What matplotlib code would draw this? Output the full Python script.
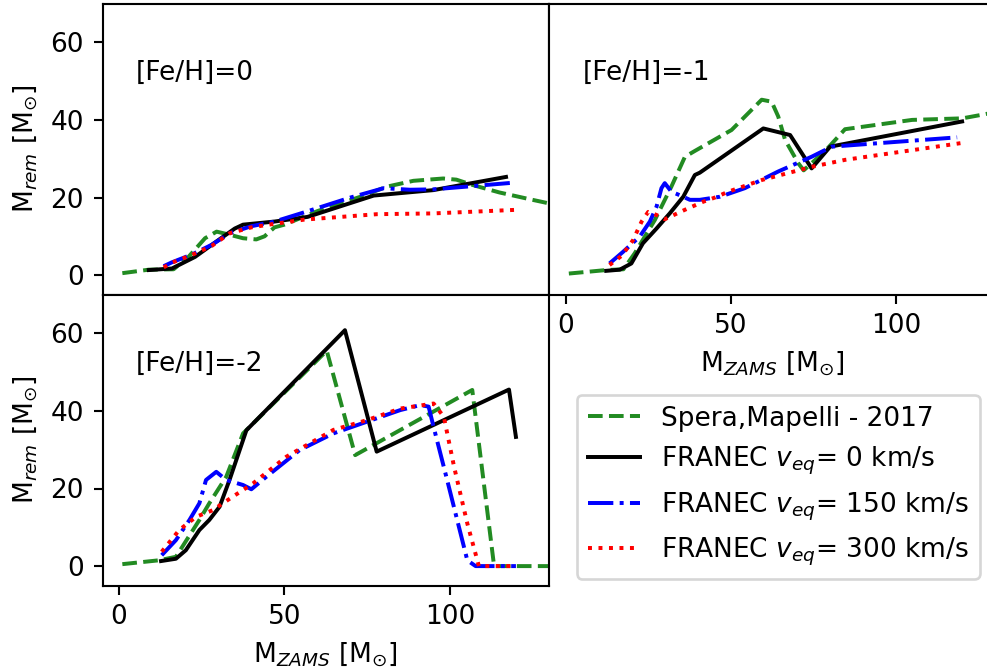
import matplotlib
matplotlib.use("Agg")
import matplotlib.pyplot as plt

# ---------------- data ----------------
# [Fe/H] = 0
spera0_m = [1, 9, 16.5, 21, 26, 29.5, 33, 37.5, 41.5, 44, 47, 50, 60, 73, 81, 89, 98, 102, 107, 115, 125, 131]
spera0_r = [0.5, 1.4, 1.5, 4.7, 9.5, 11.2, 10.5, 9.5, 9.2, 10.0, 12.3, 13.0, 16.5, 20.2, 22.8, 24.3, 24.9, 24.6, 23.2, 21.3, 19.4, 18.3]
black0_m = [9, 16, 23, 30, 35, 37.5, 47, 57, 77, 95, 117]
black0_r = [1.3, 1.7, 4.7, 9.0, 12.0, 13.0, 13.8, 15.0, 20.5, 21.9, 25.3]
blue0_m = [13.5, 16, 22, 28, 33.5, 40, 47, 55.7, 70, 80, 88, 95, 105, 119]
blue0_r = [2.3, 3.3, 5.3, 7.8, 10.8, 12.6, 13.8, 16.1, 20.0, 22.4, 22.0, 22.1, 22.8, 23.8]
red0_m = [13.5, 16, 22, 28, 33.5, 40, 46, 56, 78, 95, 119.5]
red0_r = [2.0, 3.2, 5.2, 7.5, 10.8, 12.3, 13.1, 14.3, 15.7, 15.9, 16.8]

# [Fe/H] = -1
spera1_m = [1, 12.3, 17.5, 20.9, 27, 32, 36.1, 39.1, 50.2, 59.3, 62.3, 64.3, 66.4, 70.4, 72, 78.5, 84.5, 104.8, 120, 127, 130]
spera1_r = [0.4, 1.3, 1.5, 5.6, 14.2, 22.8, 30.5, 32.0, 37.4, 45.2, 44.7, 40.9, 34.8, 28.8, 27.0, 32.0, 37.6, 40.0, 40.4, 41.5, 42.0]
black1_m = [12.3, 16.4, 19.9, 23.4, 27.5, 31.5, 35.6, 39.1, 40.6, 59.8, 67.9, 74.4, 80, 119.9]
black1_r = [1.1, 1.4, 3.0, 8.2, 12.0, 15.9, 20.2, 25.8, 26.4, 37.8, 36.1, 27.5, 33.1, 39.6]
blue1_m = [13.3, 17.4, 22.4, 25.5, 27.5, 29, 30, 32, 34.5, 37.6, 40.6, 46.7, 54.2, 64.3, 74.4, 80.5, 94.6, 118.4]
blue1_r = [3.0, 6.0, 9.9, 13.8, 17.6, 22.4, 23.7, 21.5, 20.6, 19.4, 19.4, 20.2, 22.4, 26.7, 30.5, 33.1, 34.0, 35.5]
red1_m = [13.3, 17, 20.4, 23, 25, 27.5, 30, 33, 36, 41.6, 45.2, 49.2, 59.3, 74.4, 84.5, 119.4]
red1_r = [2.6, 5.0, 9.0, 13.8, 16.3, 15.5, 14.4, 15.6, 16.8, 18.9, 20.0, 21.5, 24.5, 27.9, 29.7, 34.0]

# [Fe/H] = -2
spera2_m = [1, 12.1, 17.2, 24.3, 27.3, 32.4, 37.5, 62.8, 71.4, 106.8, 113.4, 130]
spera2_r = [0.5, 1.5, 2.4, 11.9, 16.2, 23.0, 34.2, 55.5, 28.6, 45.4, 0, 0]
black2_m = [12.7, 17.2, 20.2, 24.3, 27.3, 30.4, 33.4, 38.5, 68.3, 77.9, 117.9, 120]
black2_r = [1.3, 1.9, 4.1, 9.3, 11.9, 15.3, 22.2, 35.0, 60.8, 29.5, 45.5, 33.3]
blue2_m = [12.9, 17.2, 21.3, 24.3, 26.3, 29.4, 32.4, 37.5, 40, 44.5, 54.6, 64.8, 74.9, 85, 91.1, 93.6, 95.1, 99.2, 105.3, 107.8, 120]
blue2_r = [2.8, 6.7, 11.9, 16.2, 22.2, 24.3, 22.2, 20.9, 19.8, 23.0, 29.9, 34.2, 37.2, 40.2, 41.5, 41.1, 35.9, 22.2, 1.5, 0, 0]
red2_m = [12.9, 18.2, 23.3, 28.3, 34.4, 40.5, 50.6, 64.8, 74.9, 85, 95.1, 98.2, 101.3, 105.3, 108.8, 120]
red2_r = [3.7, 9.3, 12.7, 14.4, 17.9, 21.3, 28.2, 35.1, 37.6, 40.6, 41.9, 38.5, 25.6, 11.0, 0, 0]

panel_titles = ["[Fe/H]=0", "[Fe/H]=-1", "[Fe/H]=-2"]
legend_labels = ["Spera,Mapelli - 2017", r"FRANEC $v_{eq}$= 0 km/s",
                 r"FRANEC $v_{eq}$= 150 km/s", r"FRANEC $v_{eq}$= 300 km/s"]
xticks = [0, 50, 100]
yticks = [0, 20, 40, 60]

# ---------------- figure ----------------
DPI = 190
fig = plt.figure(figsize=(987 / DPI, 672 / DPI), dpi=DPI)

W = 446.5 / 987
H = 291 / 672
ax0 = fig.add_axes([102.5 / 987, (672 - 294.5) / 672, W, H])
ax1 = fig.add_axes([549 / 987, (672 - 294.5) / 672, W, H])
ax2 = fig.add_axes([102.5 / 987, (672 - 585.5) / 672, W, H])

panels = [
    (ax0, spera0_m, spera0_r, black0_m, black0_r, blue0_m, blue0_r, red0_m, red0_r),
    (ax1, spera1_m, spera1_r, black1_m, black1_r, blue1_m, blue1_r, red1_m, red1_r),
    (ax2, spera2_m, spera2_r, black2_m, black2_r, blue2_m, blue2_r, red2_m, red2_r),
]

handles = None
for (ax, sm, sr, km, kr, bm, br, rm, rr), title in zip(panels, panel_titles):
    h1, = ax.plot(sm, sr, color="forestgreen", ls="--", lw=1.5)
    h2, = ax.plot(km, kr, color="black", ls="-", lw=1.5)
    h3, = ax.plot(bm, br, color="blue", ls="-.", lw=1.5)
    h4, = ax.plot(rm, rr, color="red", ls=":", lw=1.5)
    if handles is None:
        handles = [h1, h2, h3, h4]
    ax.set_xlim(-5, 130)
    ax.set_ylim(-5, 70)
    ax.set_xticks(xticks)
    ax.set_yticks(yticks)
    ax.text(0.075, 0.762, title, transform=ax.transAxes, ha="left", va="center", fontsize=10)

ax0.tick_params(axis="x", bottom=False, labelbottom=False)
ax1.tick_params(axis="y", left=False, labelleft=False)

ax0.set_ylabel(r"M$_{rem}$ [M$_{\odot}$]")
ax2.set_ylabel(r"M$_{rem}$ [M$_{\odot}$]")
ax1.set_xlabel(r"M$_{ZAMS}$ [M$_{\odot}$]")
ax2.set_xlabel(r"M$_{ZAMS}$ [M$_{\odot}$]")

fig.legend(handles, legend_labels, loc="upper left",
           bbox_to_anchor=(577 / 987, 1 - 395 / 672), borderaxespad=0, fontsize=10)

fig.savefig("out.png", dpi=DPI)
